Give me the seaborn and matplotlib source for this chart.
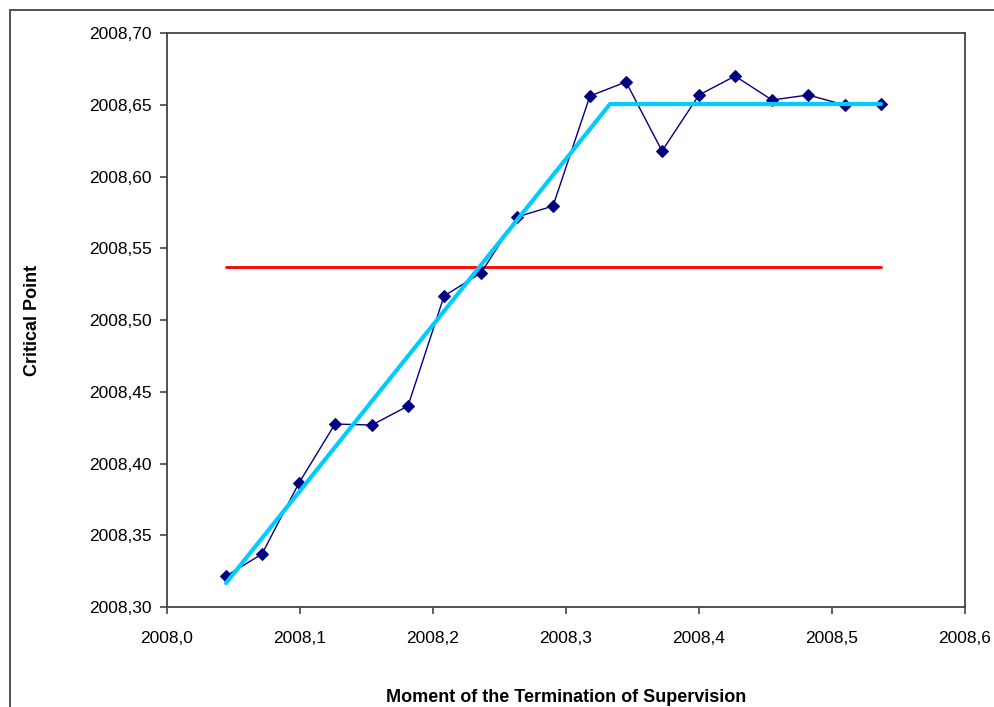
import matplotlib
matplotlib.use("Agg")
import matplotlib.pyplot as plt
import matplotlib.ticker as mticker
import seaborn as sns
import pandas as pd

# observed critical points
moment = [2008.0444, 2008.0714, 2008.0992, 2008.1263, 2008.1541, 2008.1812,
          2008.2083, 2008.2361, 2008.2632, 2008.2902, 2008.3180, 2008.3451,
          2008.3722, 2008.4000, 2008.4271, 2008.4549, 2008.4820, 2008.5098,
          2008.5368]
critical = [2008.3216, 2008.3369, 2008.3864, 2008.4275, 2008.4268, 2008.4401,
            2008.5167, 2008.5328, 2008.5718, 2008.5794, 2008.6561, 2008.6659,
            2008.6178, 2008.6568, 2008.6700, 2008.6533, 2008.6568, 2008.6498,
            2008.6505]

# mean level (red) and piecewise fit (cyan)
mean_x = [2008.0444, 2008.5368]
mean_y = [2008.5369, 2008.5369]
fit_x = [2008.0444, 2008.3331, 2008.5368]
fit_y = [2008.3167, 2008.6505, 2008.6505]

xticks = [2008.0, 2008.1, 2008.2, 2008.3, 2008.4, 2008.5, 2008.6]
yticks = [2008.30, 2008.35, 2008.40, 2008.45, 2008.50, 2008.55, 2008.60, 2008.65, 2008.70]

df = pd.DataFrame({"moment": moment, "critical": critical})

sns.set_style("white")
plt.rcParams["font.family"] = ["Liberation Sans", "DejaVu Sans"]
plt.rcParams["text.color"] = "black"
plt.rcParams["axes.labelcolor"] = "black"

fig = plt.figure(figsize=(9.94, 7.07), dpi=100)
ax = fig.add_axes([167 / 994, 1 - 607 / 707, 798 / 994, 574 / 707])

# outer chart frame
fig.patches.append(plt.Rectangle((10 / 994, -0.05), 1.1, 1 - 10 / 707 + 0.05,
                                 transform=fig.transFigure, fill=False,
                                 edgecolor="#444444", linewidth=1.3, zorder=0))

sns.lineplot(x=mean_x, y=mean_y, color="#ff0000", linewidth=2, ax=ax)
sns.lineplot(data=df, x="moment", y="critical", color="#000080", linewidth=1,
             marker="D", markersize=6.5, markeredgecolor="#000080", ax=ax)
sns.lineplot(x=fit_x, y=fit_y, color="#00ccff", linewidth=3, ax=ax)

ax.set_xlim(2008.0, 2008.6)
ax.set_ylim(2008.30, 2008.70)
ax.set_xticks(xticks)
ax.set_yticks(yticks)
ax.xaxis.set_major_formatter(mticker.FuncFormatter(lambda v, p: f"{v:.1f}".replace(".", ",")))
ax.yaxis.set_major_formatter(mticker.FuncFormatter(lambda v, p: f"{v:.2f}".replace(".", ",")))
ax.tick_params(axis="both", direction="out", length=5, width=1.2, color="#444444",
               labelcolor="black", labelsize=12.5, left=True, bottom=True)
ax.tick_params(axis="y", pad=6)
ax.tick_params(axis="x", pad=12)

for s in ax.spines.values():
    s.set_color("#444444")
    s.set_linewidth(1.3)

ax.set_xlabel("Moment of the Termination of Supervision", fontsize=13, fontweight="bold")
ax.set_ylabel("Critical Point", fontsize=13, fontweight="bold")
ax.xaxis.set_label_coords(0.5, -0.143)
ax.yaxis.set_label_coords(-0.158, 0.5)

fig.savefig("out.png", dpi=100)
